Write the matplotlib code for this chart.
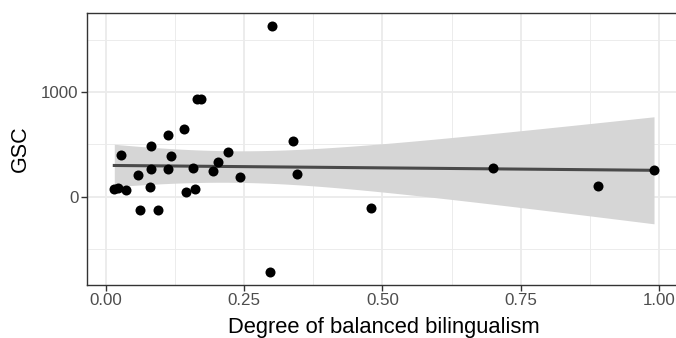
import matplotlib as mpl
mpl.use("Agg")
import matplotlib.pyplot as plt
import numpy as np

# Balance score vs GSC, one point per participant
balance = [0.300, 0.164, 0.171, 0.141, 0.112, 0.339, 0.081, 0.028, 0.118, 0.220,
           0.202, 0.081, 0.112, 0.157, 0.194, 0.242, 0.346, 0.058, 0.015, 0.022,
           0.037, 0.080, 0.144, 0.161, 0.062, 0.094, 0.479, 0.296, 0.699, 0.890,
           0.991]
gsc = [1633, 937, 931, 652, 589, 535, 484, 402, 389, 427,
       335, 263, 269, 275, 247, 193, 215, 206, 79, 89,
       63, 98, 47, 79, -127, -127, -104, -719, 272, 104,
       253]

x_ticks = [0.00, 0.25, 0.50, 0.75, 1.00]
x_tick_labels = ["0.00", "0.25", "0.50", "0.75", "1.00"]
y_ticks = [0, 1000]
y_tick_labels = ["0", "1000"]

plt.rcParams["font.family"] = ["Liberation Sans", "DejaVu Sans"]

x = np.asarray(balance, dtype=float)
y = np.asarray(gsc, dtype=float)

# ordinary least squares with a 95% confidence band (t, df = n - 2)
n = len(x)
slope, intercept = np.polyfit(x, y, 1)
resid = y - (intercept + slope * x)
s = np.sqrt(np.sum(resid ** 2) / (n - 2))
sxx = np.sum((x - x.mean()) ** 2)
t_crit = 2.045
grid_x = np.linspace(x.min(), x.max(), 80)
fit = intercept + slope * grid_x
half = t_crit * s * np.sqrt(1 / n + (grid_x - x.mean()) ** 2 / sxx)

W, H = 676, 338
fig = plt.figure(figsize=(W / 100, H / 100), dpi=100)
left, right, top, bottom = 87.3, 681.0, 13.3, 284.7
ax = fig.add_axes([left / W, 1 - bottom / H, (right - left) / W, (bottom - top) / H])

# ggplot-style 5% expansion of the data range
xr = x.max() - x.min()
yr = y.max() - y.min()
ax.set_xlim(x.min() - 0.05 * xr, x.max() + 0.05 * xr)
ax.set_ylim(y.min() - 0.05 * yr, y.max() + 0.05 * yr)

ax.set_xticks(x_ticks)
ax.set_xticklabels(x_tick_labels)
ax.set_yticks(y_ticks)
ax.set_yticklabels(y_tick_labels)
ax.set_xticks([0.125, 0.375, 0.625, 0.875], minor=True)
ax.set_yticks([-500, 500, 1500], minor=True)
ax.grid(which="major", color="#EBEBEB", linewidth=1.3, zorder=0)
ax.grid(which="minor", color="#EBEBEB", linewidth=0.65, zorder=0)
ax.set_axisbelow(True)
ax.tick_params(which="minor", length=0)
ax.tick_params(which="major", length=4.0, width=1.0, color="#333333",
               labelcolor="#4D4D4D", labelsize=12.2)
ax.tick_params(axis="x", pad=2.0)
ax.tick_params(axis="y", pad=2.5)
for spine in ax.spines.values():
    spine.set_color("#333333")
    spine.set_linewidth(1.0)

ax.fill_between(grid_x, fit - half, fit + half, color="#D6D6D6", linewidth=0, zorder=2)
ax.plot(grid_x, fit, color="#4A4A4A", linewidth=2.2, zorder=3)
ax.scatter(x, y, s=52, color="black", linewidths=0, zorder=4)

ax.set_xlabel("Degree of balanced bilingualism", fontsize=15.8)
ax.set_ylabel("GSC", fontsize=15.5)
ax.xaxis.set_label_coords(0.5, -(327.5 - bottom) / (bottom - top))
ax.xaxis.label.set_va("center")
ax.yaxis.set_label_coords(-(left - 20.8) / (right - left), 0.5)
ax.yaxis.label.set_va("center")

fig.savefig("out.png", dpi=100)
